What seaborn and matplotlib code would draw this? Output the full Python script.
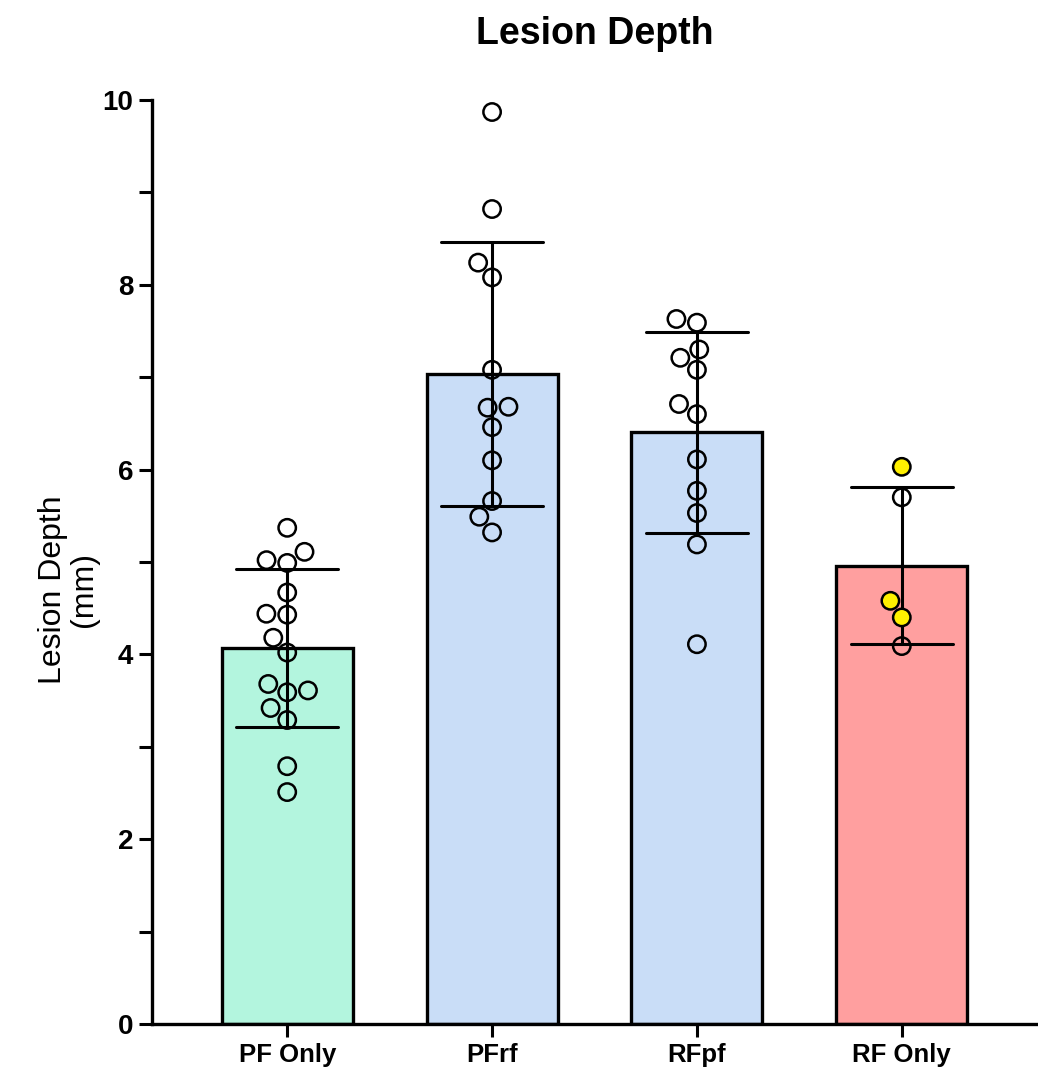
import pandas as pd
import matplotlib
matplotlib.use("Agg")
import matplotlib.pyplot as plt
from matplotlib.ticker import MultipleLocator
import seaborn as sns

# values (mm)
groups = ["PF Only", "PFrf", "RFpf", "RF Only"]
pf_only = [5.37, 4.99, 5.02, 5.11, 4.67, 4.43, 4.44, 4.18, 4.02, 3.61, 3.68, 3.59, 3.42, 3.29, 2.79, 2.51]
pfrf = [9.87, 8.82, 8.08, 8.24, 7.08, 6.67, 6.68, 6.46, 6.10, 5.66, 5.49, 5.32]
rfpf = [7.59, 7.63, 7.30, 7.21, 7.08, 6.71, 6.60, 6.11, 5.77, 5.53, 5.19, 4.11]
rf_only = [6.03, 5.70, 4.58, 4.40, 4.09]
rf_only_yellow = [True, False, True, True, False]

bar_colors = ["#B3F5DE", "#C9DDF7", "#C9DDF7", "#FF9F9F"]

rows = []
for g, vals in zip(groups, [pf_only, pfrf, rfpf, rf_only]):
    for i, v in enumerate(vals):
        yellow = g == "RF Only" and rf_only_yellow[i]
        rows.append({"group": g, "depth": v, "mark": "yellow" if yellow else "open"})
df = pd.DataFrame(rows)

sns.set_style("ticks")
plt.rcParams["font.family"] = ["Liberation Sans", "DejaVu Sans"]
for key in ["text.color", "axes.edgecolor", "axes.labelcolor", "xtick.color", "ytick.color"]:
    plt.rcParams[key] = "black"

fig = plt.figure(figsize=(10.38, 10.75), dpi=100)
ax = fig.add_axes([152 / 1038, 51 / 1075, 885 / 1038, 924 / 1075])

sns.barplot(
    data=df, x="group", y="depth", order=groups, hue="group", palette=bar_colors,
    saturation=1, errorbar="sd", capsize=0.5, width=0.64, edgecolor="black", linewidth=2.4,
    err_kws={"color": "black", "linewidth": 2.2}, legend=False, ax=ax,
)
sns.swarmplot(
    data=df, x="group", y="depth", order=groups, hue="mark",
    palette={"open": (1, 1, 1, 0), "yellow": "#FFF000"},
    size=12.5, edgecolor="black", linewidth=1.8, legend=False, ax=ax, zorder=3,
)

ax.set_xlim(-0.66, 3.66)
ax.set_ylim(0, 10)
ax.yaxis.set_major_locator(MultipleLocator(2))
ax.yaxis.set_minor_locator(MultipleLocator(1))
sns.despine(ax=ax)
for side in ["left", "bottom"]:
    ax.spines[side].set_linewidth(2.4)

ax.tick_params(axis="y", which="both", length=9.5, width=2.2, pad=4, labelsize=20)
ax.tick_params(axis="x", length=9.5, width=2.2, pad=4, labelsize=18.5)
for lab in ax.get_yticklabels() + ax.get_xticklabels():
    lab.set_fontweight("bold")

ax.set_xlabel("")
ax.set_ylabel("Lesion Depth\n(mm)", fontsize=23, linespacing=1.05)
ax.yaxis.set_label_coords(-0.06, 0.47)
ax.set_title("Lesion Depth", fontsize=27, fontweight="bold", pad=40)

fig.savefig("out.png", dpi=100)
